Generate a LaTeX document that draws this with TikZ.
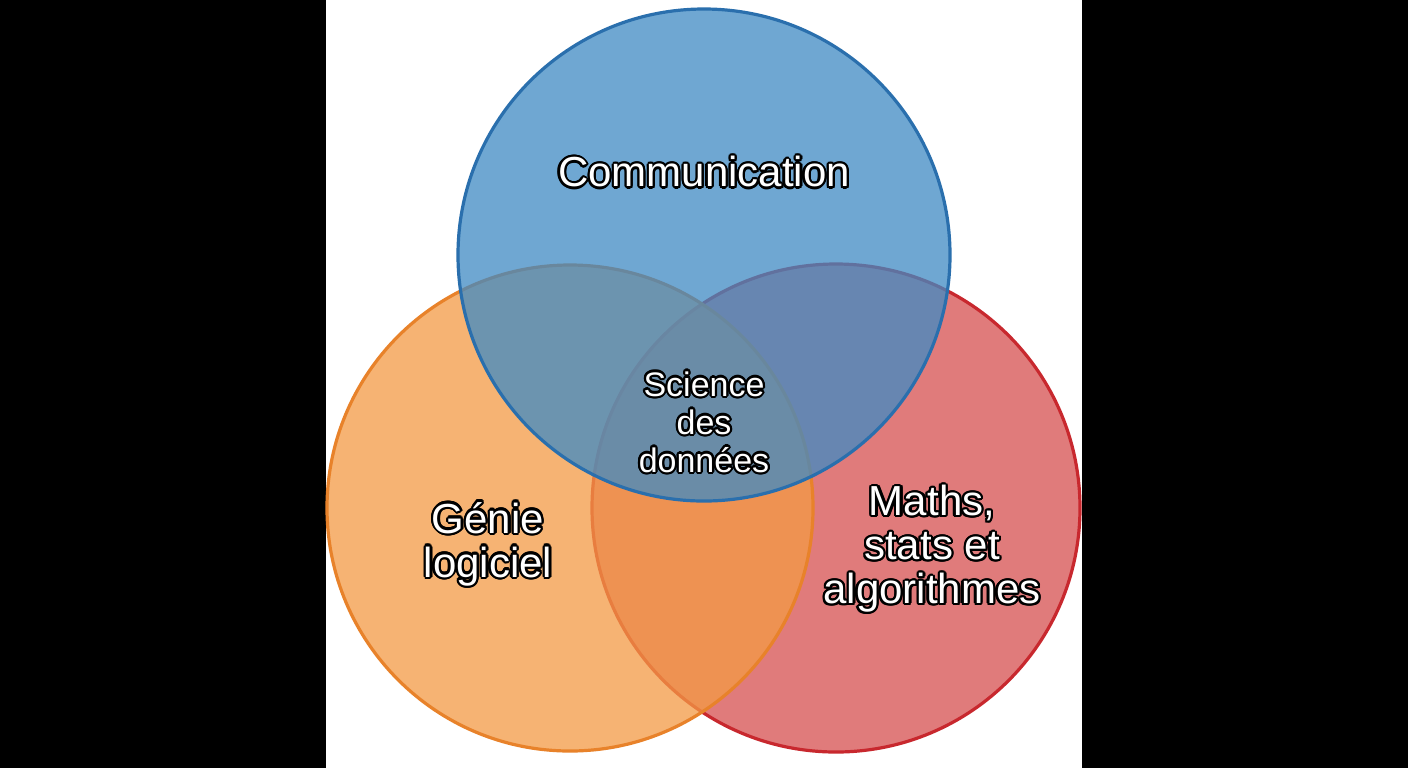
\documentclass[tikz,border=0pt]{standalone}
\usepackage{fontspec}
\setmainfont{Liberation Sans}
\usepackage{contour}
\contourlength{1.1pt}
\definecolor{commblue}{HTML}{3F8AC4}
\definecolor{commline}{HTML}{2A6FAD}
\definecolor{genorange}{HTML}{F39A45}
\definecolor{genline}{HTML}{E8822A}
\definecolor{mathred}{HTML}{D64F50}
\definecolor{mathline}{HTML}{C8282E}
\tikzset{
  venn/.style={line width=1.6pt, fill opacity=0.75, draw opacity=1},
  lbl/.style={text=white, align=center, font=\fontsize{21}{22}\selectfont},
  lblsmall/.style={text=white, align=center, font=\fontsize{17}{19}\selectfont}
}
\begin{document}
\begin{tikzpicture}[x=0.5pt,y=-0.5pt]
\useasboundingbox (0,0) rectangle (1408,768);
\fill[black] (0,0) rectangle (326,768);
\fill[black] (1082,0) rectangle (1408,768);
\fill[white] (326,0) rectangle (1082,768);
% circles
\draw[venn, draw=mathline, fill=mathred] (836,508) circle[radius=244];
\draw[venn, draw=genline, fill=genorange] (570,508) circle[radius=243];
\draw[venn, draw=commline, fill=commblue] (704,255) circle[radius=246];
% labels
\node[lbl] (comm) at (704,173) {\contour{black}{Communication}};
\node[lbl] (genie) at (488,545) {\contour{black}{Génie}\\\contour{black}{logiciel}};
\node[lbl] (maths) at (932,550) {\contour{black}{Maths,}\\\contour{black}{stats et}\\\contour{black}{algorithmes}};
\node[lblsmall] (sci) at (704,423) {\contour{black}{Science}\\\contour{black}{des}\\\contour{black}{données}};
\end{tikzpicture}
\end{document}
